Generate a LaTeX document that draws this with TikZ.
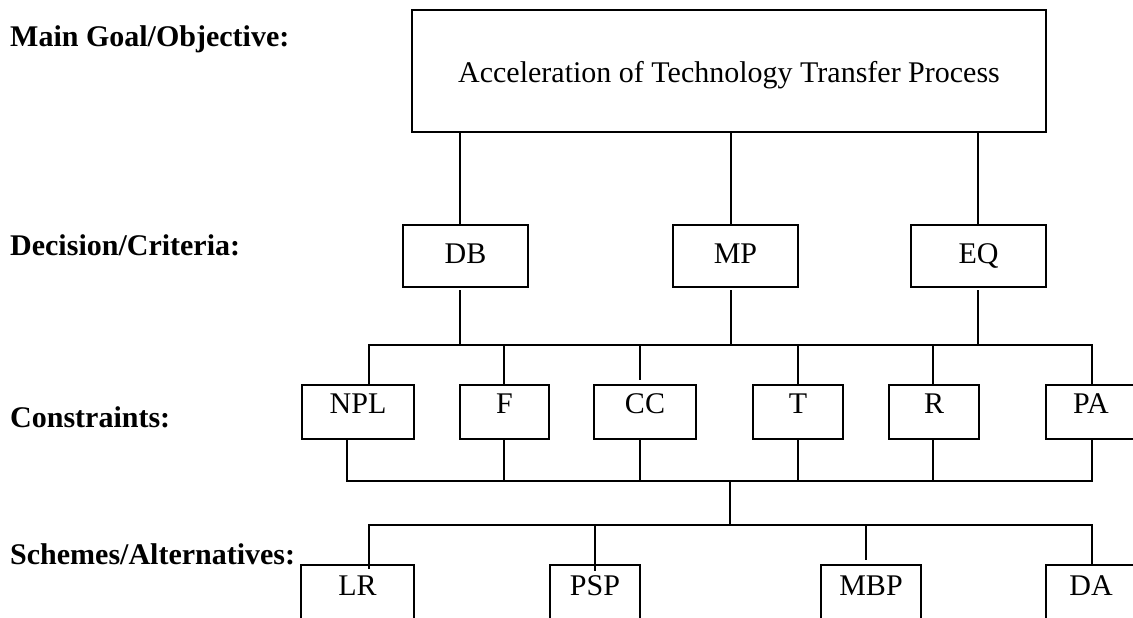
\documentclass[tikz,border=0pt]{standalone}
\usepackage{fontspec}
\setmainfont{Liberation Serif}
\begin{document}
\begin{tikzpicture}[x=1pt,y=-1pt,
  box/.style={draw, line width=2pt, inner sep=0pt, font=\fontsize{30}{36}\selectfont},
  goalbox/.style={box, minimum width=634pt, minimum height=122pt, text height=26pt, text depth=4pt},
  critbox/.style={box, minimum height=62pt, text height=20pt, text depth=6pt},
  consbox/.style={box, minimum height=54pt, text height=16pt, text depth=14pt},
  altbox/.style={box, minimum height=85pt, text height=20pt, text depth=45pt},
  lvl/.style={anchor=base west, inner sep=0pt, font=\fontsize{30}{36}\selectfont\bfseries},
  wire/.style={line width=1.8pt, line cap=rect}
]
\useasboundingbox (0,0) rectangle (1133,618);

% level labels
\node[lvl] (l1) at (10,46.5) {Main Goal/Objective:};
\node[lvl] (l2) at (10,255) {Decision/Criteria:};
\node[lvl] (l3) at (10,427) {Constraints:};
\node[lvl] (l4) at (10,564) {Schemes/Alternatives:};

% goal
\node[goalbox] (goal) at (729,71) {Acceleration of Technology Transfer Process};

% criteria
\node[critbox, minimum width=125pt] (DB) at (465.5,256) {DB};
\node[critbox, minimum width=125pt] (MP) at (735.5,256) {MP};
\node[critbox, minimum width=135pt] (EQ) at (978.5,256) {EQ};

% constraints
\node[consbox, minimum width=112pt] (NPL) at (358,412) {NPL};
\node[consbox, minimum width=89pt]  (F)   at (504.5,412) {F};
\node[consbox, minimum width=102pt] (CC)  at (645,412) {CC};
\node[consbox, minimum width=90pt]  (T)   at (798,412) {T};
\node[consbox, minimum width=90pt]  (R)   at (934,412) {R};
\node[consbox, minimum width=90pt]  (PA)  at (1091,412) {PA};

% alternatives
\node[altbox, minimum width=113pt] (LR)  at (357.5,607.5) {LR};
\node[altbox, minimum width=90pt]  (PSP) at (595,607.5) {PSP};
\node[altbox, minimum width=100pt] (MBP) at (871,607.5) {MBP};
\node[altbox, minimum width=90pt]  (DA)  at (1091,607.5) {DA};

% helper coordinates
\coordinate (xDB) at (460,0);
\coordinate (xMP) at (731,0);
\coordinate (xEQ) at (978,0);
\coordinate (xa1) at (369,0);
\coordinate (xa2) at (347,0);
\coordinate (xb) at (504,0);
\coordinate (xc) at (640,0);
\coordinate (xd) at (798,0);
\coordinate (xe) at (933,0);
\coordinate (xf) at (1092,0);
\coordinate (xm) at (730,0);
\coordinate (xpsp) at (595,0);
\coordinate (xmbp) at (866,0);
\coordinate (bus1) at (0,345);
\coordinate (bus2) at (0,481);
\coordinate (bus3) at (0,525);

% goal -> criteria
\foreach \n/\x in {DB/xDB, MP/xMP, EQ/xEQ}
  \draw[wire] (goal.south -| \x) -- (\n.north -| \x);

% criteria -> bus1
\foreach \n/\x in {DB/xDB, MP/xMP, EQ/xEQ}
  \draw[wire] ([yshift=-3pt]\n.south -| \x) -- (bus1 -| \x);
\draw[wire] (bus1 -| xa1) -- (bus1 -| xf);

% bus1 -> constraints
\foreach \n/\x in {NPL/xa1, F/xb, T/xd, R/xe, PA/xf}
  \draw[wire] (bus1 -| \x) -- (\n.north -| \x);
\draw[wire] (bus1 -| xc) -- ([yshift=5pt]CC.north -| xc);

% constraints -> bus2
\foreach \n/\x in {NPL/xa2, F/xb, CC/xc, T/xd, R/xe, PA/xf}
  \draw[wire] (\n.south -| \x) -- (bus2 -| \x);
\draw[wire] (bus2 -| xa2) -- (bus2 -| xf);

% bus2 -> bus3
\draw[wire] (bus2 -| xm) -- (bus3 -| xm);
\draw[wire] (bus3 -| xa1) -- (bus3 -| xf);

% bus3 -> alternatives
\draw[wire] (bus3 -| xa1) -- ([yshift=-4pt]LR.north -| xa1);
\draw[wire] (bus3 -| xpsp) -- ([yshift=-6pt]PSP.north -| xpsp);
\draw[wire] (bus3 -| xmbp) -- ([yshift=5pt]MBP.north -| xmbp);
\draw[wire] (bus3 -| xf) -- (DA.north -| xf);
\end{tikzpicture}
\end{document}
